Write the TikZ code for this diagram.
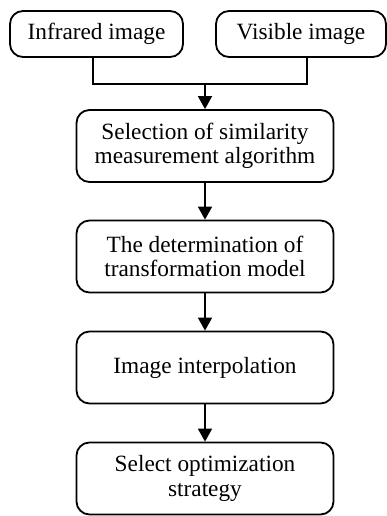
\documentclass[tikz,border=0pt]{standalone}
\usepackage{fontspec}
\setmainfont{Liberation Serif}
\usetikzlibrary{arrows.meta,calc}

\tikzset{
  stepbox/.style={draw=black,line width=1.8pt,rounded corners=13pt,fill=white,
    align=center,inner sep=0pt,font=\fontsize{23.3}{24.5}\selectfont},
  flow/.style={line width=1.8pt,-{Triangle[length=13pt,width=14pt]}}
}

\begin{document}
\begin{tikzpicture}[x=1pt,y=1pt]
\useasboundingbox (0,0) rectangle (387,516);

\node[stepbox,minimum width=173pt,minimum height=46pt] (ir)  at (96.5,482) {Infrared image};
\node[stepbox,minimum width=170pt,minimum height=46pt] (vis) at (301,482) {Visible image};

\node[stepbox,minimum width=257pt,minimum height=72pt] (sel)  at (205,370)
  {Selection of similarity\\measurement algorithm};
\node[stepbox,minimum width=257pt,minimum height=72pt] (det)  at (205,259.5)
  {The determination of\\transformation model};
\node[stepbox,minimum width=257pt,minimum height=72pt] (ipol) at (205,148.5)
  {Image interpolation};
\node[stepbox,minimum width=257pt,minimum height=72pt] (opt)  at (205,37.5)
  {Select optimization\\strategy};

\coordinate (jir)  at (93,432);
\coordinate (jvis) at (307,432);
\coordinate (jm)   at (205,432);

\draw[line width=1.8pt] (jir|-ir.south) -- (jir) -- (jvis) -- (jvis|-vis.south);
\draw[flow] (jm) -- (sel.north);
\draw[flow] (sel) -- (det);
\draw[flow] (det) -- (ipol);
\draw[flow] (ipol) -- (opt);

\end{tikzpicture}
\end{document}
